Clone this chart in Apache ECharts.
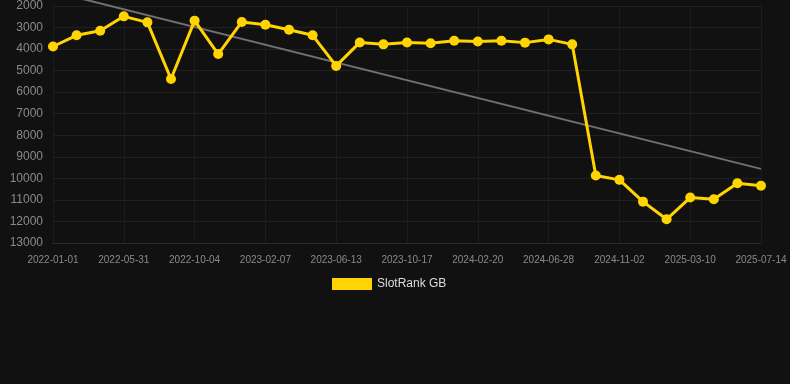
<!DOCTYPE html>
<html><head><meta charset="utf-8">
<script src="https://cdn.jsdelivr.net/npm/echarts@6/dist/echarts.min.js"></script>
<style>html,body{margin:0;padding:0;background:#111111;}#c{width:790px;height:384px;}</style>
</head><body><div id="c"></div>
<script>
const categories = [
  '2022-01-01','2022-02-20','2022-04-11','2022-05-31','2022-07-12','2022-08-23','2022-10-04','2022-11-15','2022-12-27','2023-02-07',
  '2023-03-21','2023-05-02','2023-06-13','2023-07-25','2023-09-05','2023-10-17','2023-11-28','2024-01-09','2024-02-20','2024-04-02',
  '2024-05-15','2024-06-28','2024-08-09','2024-09-21','2024-11-02','2024-12-14','2025-01-26','2025-03-10','2025-04-21','2025-06-02','2025-07-14'
];
const rankGB = [
  3880,3360,3145,2480,2760,5390,2680,4230,2740,2870,
  3100,3360,4780,3690,3780,3690,3730,3610,3650,3610,
  3700,3550,3780,9870,10070,11080,11900,10890,10970,10230,10340
];
const trendEnds = [1330, 9560];
const yTicks = [2000,13000,1000];

const trendData = categories.map((c,i)=> i===0 ? trendEnds[0] : (i===categories.length-1 ? trendEnds[1] : '-'));

const chart = echarts.init(document.getElementById('c'));
chart.setOption({
  backgroundColor: '#111111',
  animation: false,
  grid: {left: 53, right: 29, top: 6, bottom: 141},
  legend: {
    data: [{name: 'SlotRank GB', icon: 'rect'}], top: 273, left: 327,
    itemWidth: 40, itemHeight: 12, itemGap: 10,
    textStyle: {color: '#dddddd', fontSize: 12, fontFamily: 'Liberation Sans, Arial, sans-serif'}
  },
  xAxis: {
    type: 'category', data: categories, boundaryGap: false,
    axisLine: {show: true, lineStyle: {color: '#2a2a2a'}},
    axisTick: {show: false},
    axisLabel: {interval: 2, color: '#8a8a8a', fontSize: 10, margin: 12, fontFamily: 'Liberation Sans, Arial, sans-serif'},
    splitLine: {show: true, interval: 2, lineStyle: {color: '#1c1c1c'}}
  },
  yAxis: {
    type: 'value', inverse: true, min: yTicks[0], max: yTicks[1], interval: yTicks[2],
    axisLine: {show: false}, axisTick: {show: false},
    axisLabel: {color: '#8a8a8a', fontSize: 12, margin: 10, fontFamily: 'Liberation Sans, Arial, sans-serif', formatter: v => String(v)},
    splitLine: {lineStyle: {color: '#212121'}}
  },
  series: [
    {
      name: 'trend', type: 'line', data: trendData, connectNulls: true, clip: false,
      symbol: 'none', silent: true,
      lineStyle: {color: '#707070', width: 2}, z: 1
    },
    {
      name: 'SlotRank GB', type: 'line', data: rankGB,
      symbol: 'circle', symbolSize: 10,
      itemStyle: {color: '#FFD400'},
      lineStyle: {color: '#FFD400', width: 3}, z: 2
    }
  ]
});
</script></body></html>
